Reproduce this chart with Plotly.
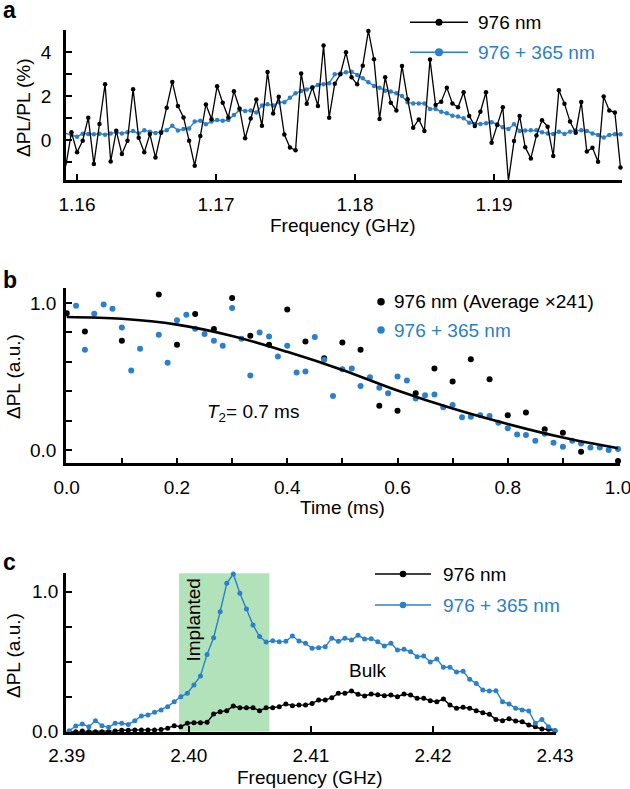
import plotly.graph_objects as go
import numpy as np

W, H = 630, 789
FONT = "Liberation Sans, Arial, Helvetica, sans-serif"
BLUE = "#2a80ca"
BLACK = "#000000"
GREEN = "#b2e2ba"

# ---------------- Panel a data ----------------
freq_a = np.linspace(1.1592, 1.1991, 100)
pl_976_a = [-1.17, 0.35, -0.56, -0.03, 1.02, -1.10, 0.73, 2.55, -0.98, 0.42,
            -0.64, -0.03, 2.32, 0.10, -0.56, 0.27, -0.80, 0.33, 1.47, 2.65,
            1.55, 1.03, -0.03, -1.17, 0.18, 1.62, 0.95, 2.45, 1.70, 1.03,
            2.23, 1.44, 0.08, 0.98, 1.85, 0.65, 3.10, 1.21, 1.97, 0.25,
            -0.34, -0.47, 3.04, 1.65, 2.40, 1.55, 4.31, 1.02, 2.57, 3.00,
            4.00, 2.86, 2.54, 3.39, 4.98, 3.68, 0.96, 2.86, 1.70, 1.35,
            3.38, 1.86, 0.56, 0.94, 0.41, 3.67, 1.60, 1.75, 2.39, 1.67,
            1.49, 2.18, 1.10, 0.64, 1.29, 2.18, -0.12, 0.68, 1.49, -1.86,
            -0.05, 1.10, -0.33, -0.84, 0.20, 0.90, 0.61, -0.73, 2.27, 1.66,
            0.84, 0.33, 1.74, -0.53, -0.35, -0.99, 1.98, 1.35, 1.26, -1.25]
pl_uv_a = [0.30, 0.23, 0.15, 0.29, 0.27, 0.26, 0.29, 0.24, 0.30, 0.35,
           0.30, 0.35, 0.41, 0.30, 0.44, 0.38, 0.32, 0.38, 0.44, 0.65,
           0.43, 0.50, 0.53, 0.84, 0.88, 0.72, 0.84, 0.91, 0.88, 0.91,
           1.14, 1.37, 1.32, 1.35, 1.26, 1.57, 1.63, 1.57, 1.72, 1.72,
           1.93, 2.13, 2.24, 2.31, 2.40, 2.51, 2.54, 2.59, 3.00, 3.04,
           3.09, 3.12, 2.97, 2.82, 2.63, 2.47, 2.39, 2.25, 2.21, 2.13,
           2.01, 1.72, 1.67, 1.67, 1.67, 1.42, 1.42, 1.29, 1.22, 1.11,
           1.07, 0.99, 0.79, 0.73, 0.73, 0.76, 0.81, 0.72, 0.58, 0.50,
           0.72, 0.41, 0.43, 0.44, 0.44, 0.35, 0.30, 0.27, 0.38, 0.27,
           0.38, 0.43, 0.44, 0.41, 0.30, 0.23, 0.12, 0.23, 0.26, 0.26]

# ---------------- Panel b data ----------------
t_976_b = [0.0, 0.033, 0.1, 0.167, 0.2, 0.233, 0.267, 0.3, 0.333, 0.367,
           0.4, 0.433, 0.467, 0.5, 0.533, 0.567, 0.6, 0.633, 0.667, 0.7,
           0.733, 0.767, 0.8, 0.833, 0.867, 0.9, 0.933, 1.0]
pl_976_b = [0.93, 0.807, 0.743, 1.057, 0.716, 0.925, 0.823, 1.034, 0.777, 0.716,
            0.955, 0.739, 0.625, 0.732, 0.682, 0.302, 0.268, 0.386, 0.555, 0.466,
            0.618, 0.482, 0.236, 0.255, 0.141, 0.118, -0.011, -0.075]
t_uv_b = [0.017, 0.033, 0.05, 0.067, 0.083, 0.1, 0.117, 0.133, 0.167, 0.183,
          0.2, 0.217, 0.233, 0.25, 0.267, 0.283, 0.3, 0.317, 0.333, 0.35,
          0.367, 0.383, 0.4, 0.417, 0.433, 0.45, 0.467, 0.483, 0.5, 0.517,
          0.533, 0.55, 0.567, 0.583, 0.6, 0.617, 0.633, 0.65, 0.667, 0.683,
          0.7, 0.717, 0.733, 0.75, 0.767, 0.783, 0.8, 0.817, 0.833, 0.85,
          0.867, 0.883, 0.9, 0.917, 0.933, 0.95, 0.967, 0.983, 1.0]
pl_uv_b = [0.982, 0.682, 0.927, 0.989, 0.961, 0.834, 0.541, 0.689, 0.784, 0.593,
           0.882, 0.920, 0.825, 0.789, 0.743, 0.709, 0.966, 0.757, 0.507, 0.800,
           0.773, 0.636, 0.709, 0.527, 0.534, 0.768, 0.614, 0.368, 0.550, 0.555,
           0.436, 0.495, 0.423, 0.386, 0.500, 0.473, 0.350, 0.373, 0.377, 0.291,
           0.307, 0.223, 0.227, 0.236, 0.232, 0.186, 0.148, 0.105, 0.102, 0.064,
           0.111, 0.050, 0.023, 0.064, 0.045, 0.018, 0.018, 0.000, 0.007]
t_fit_b = [0.0, 0.1, 0.2, 0.3, 0.4, 0.5, 0.6, 0.7, 0.8, 0.9, 1.0]
fit_b = [0.905, 0.893, 0.853, 0.776, 0.668, 0.545, 0.405, 0.282, 0.177, 0.085, 0.012]

# ---------------- Panel c data ----------------
freq_c = np.linspace(2.3902, 2.4300, 75)
pl_976_c = [0.0, 0.0, 0.005, 0.0, 0.0, 0.0, 0.0, 0.005, 0.01, 0.01,
            0.012, 0.012, 0.012, 0.012, 0.015, 0.025, 0.043, 0.036, 0.06, 0.064,
            0.064, 0.067, 0.126, 0.143, 0.15, 0.183, 0.171, 0.171, 0.171, 0.15,
            0.171, 0.171, 0.179, 0.198, 0.186, 0.19, 0.19, 0.202, 0.226, 0.226,
            0.243, 0.274, 0.274, 0.29, 0.267, 0.255, 0.269, 0.264, 0.257, 0.262,
            0.25, 0.269, 0.262, 0.238, 0.238, 0.221, 0.214, 0.233, 0.19, 0.167,
            0.174, 0.167, 0.15, 0.136, 0.124, 0.088, 0.079, 0.093, 0.076, 0.071,
            0.048, 0.036, 0.019, 0.017, 0.007]
pl_uv_c = [0.007, 0.04, 0.055, 0.036, 0.079, 0.043, 0.031, 0.06, 0.06, 0.052,
           0.079, 0.112, 0.119, 0.138, 0.155, 0.179, 0.214, 0.25, 0.274, 0.333,
           0.398, 0.552, 0.671, 0.857, 1.06, 1.126, 0.988, 0.876, 0.762, 0.679,
           0.64, 0.65, 0.643, 0.645, 0.683, 0.648, 0.631, 0.595, 0.60, 0.607,
           0.667, 0.645, 0.667, 0.655, 0.688, 0.662, 0.664, 0.643, 0.612, 0.631,
           0.583, 0.588, 0.571, 0.536, 0.54, 0.498, 0.519, 0.46, 0.46, 0.426,
           0.431, 0.374, 0.345, 0.298, 0.29, 0.293, 0.214, 0.198, 0.167, 0.155,
           0.148, 0.06, 0.088, 0.036, 0.007]
implanted_band = [2.3992, 2.4066]
implanted_top = 1.174

# ---------------- helpers ----------------
def px(x):
    return x / W

def py(y):
    return 1 - y / H

fig = go.Figure()

# Panel a traces
fig.add_trace(go.Scatter(x=freq_a, y=pl_uv_a, mode="lines+markers",
                         line=dict(color=BLUE, width=1.4), marker=dict(color=BLUE, size=4.5),
                         xaxis="x", yaxis="y", cliponaxis=False, showlegend=False))
fig.add_trace(go.Scatter(x=freq_a, y=pl_976_a, mode="lines+markers",
                         line=dict(color=BLACK, width=1.3), marker=dict(color=BLACK, size=4.5),
                         xaxis="x", yaxis="y", cliponaxis=False, showlegend=False))

# Panel b traces
fig.add_trace(go.Scatter(x=t_976_b, y=pl_976_b, mode="markers",
                         marker=dict(color=BLACK, size=6), xaxis="x2", yaxis="y2",
                         cliponaxis=False, showlegend=False))
fig.add_trace(go.Scatter(x=t_uv_b, y=pl_uv_b, mode="markers",
                         marker=dict(color=BLUE, size=6), xaxis="x2", yaxis="y2",
                         cliponaxis=False, showlegend=False))
fig.add_trace(go.Scatter(x=t_fit_b, y=fit_b, mode="lines",
                         line=dict(color=BLACK, width=2.6, shape="spline"),
                         xaxis="x2", yaxis="y2", cliponaxis=False, showlegend=False))

# Panel c traces
fig.add_trace(go.Scatter(x=freq_c, y=pl_976_c, mode="lines+markers",
                         line=dict(color=BLACK, width=1.4), marker=dict(color=BLACK, size=5),
                         xaxis="x3", yaxis="y3", cliponaxis=False, showlegend=False))
fig.add_trace(go.Scatter(x=freq_c, y=pl_uv_c, mode="lines+markers",
                         line=dict(color=BLUE, width=1.4), marker=dict(color=BLUE, size=5),
                         xaxis="x3", yaxis="y3", cliponaxis=False, showlegend=False))

axis_common = dict(showline=True, linewidth=2.5, linecolor=BLACK, ticks="inside",
                   ticklen=6, tickwidth=2, tickcolor=BLACK, showgrid=False,
                   zeroline=False, automargin=False, ticklabeloverflow="allow",
                   tickfont=dict(family=FONT, size=19, color=BLACK))

fig.update_layout(
    template="none",
    width=W, height=H, margin=dict(l=0, r=0, t=0, b=0, pad=0),
    paper_bgcolor="white", plot_bgcolor="rgba(0,0,0,0)",
    hovermode=False,
    xaxis=dict(domain=[px(66), px(622)], range=[1.15921, 1.19921], anchor="y",
               tickvals=[1.16, 1.17, 1.18, 1.19], ticktext=["1.16", "1.17", "1.18", "1.19"],
               ticklabelstandoff=5, **axis_common),
    yaxis=dict(domain=[py(180), py(30)], range=[-1.825, 5.02], anchor="x",
               tickvals=[-1, 0, 1, 2, 3, 4], ticktext=[" ", "0", " ", "2", " ", "4"],
               ticklabelstandoff=8, **axis_common),
    xaxis2=dict(domain=[px(66), px(620)], range=[-0.0013, 1.0036], anchor="y2",
                tickvals=[0, 0.1, 0.2, 0.3, 0.4, 0.5, 0.6, 0.7, 0.8, 0.9, 1.0],
                ticktext=["0.0", " ", "0.2", " ", "0.4", " ", "0.6", " ", "0.8", " ", "1.0"],
                ticklabelstandoff=5, **axis_common),
    yaxis2=dict(domain=[py(463.3), py(288.3)], range=[-0.09, 1.10], anchor="x2",
                tickvals=[0, 0.2, 0.4, 0.6, 0.8, 1.0],
                ticktext=["0.0", " ", " ", " ", " ", "1.0"],
                ticklabelstandoff=3, **axis_common),
    xaxis3=dict(domain=[px(66), px(556)], range=[2.38994, 2.43008], anchor="y3",
                tickvals=[2.39, 2.40, 2.41, 2.42, 2.43],
                ticktext=["2.39", "2.40", "2.41", "2.42", "2.43"],
                ticklabelstandoff=5, **axis_common),
    yaxis3=dict(domain=[py(731.7), py(573.3)], range=[0, 1.131], anchor="x3",
                tickvals=[0, 0.25, 0.5, 0.75, 1.0],
                ticktext=["0.0", " ", " ", " ", "1.0"],
                ticklabelstandoff=1, **axis_common),
)

shapes = []
# Implanted band in panel c (data coordinates)
shapes.append(dict(type="rect", xref="x3", yref="y3", x0=implanted_band[0], x1=implanted_band[1],
                   y0=0, y1=implanted_top, fillcolor=GREEN, line=dict(width=0), layer="below"))

def legend_dot(xc, y, color, d):
    r = d / 2
    shapes.append(dict(type="circle", xref="paper", yref="paper",
                       x0=px(xc - r), x1=px(xc + r), y0=py(y + r), y1=py(y - r),
                       fillcolor=color, line=dict(width=0)))

def legend_line(x0, x1, y, color, dot_d, width=1.5):
    shapes.append(dict(type="line", xref="paper", yref="paper", x0=px(x0), x1=px(x1),
                       y0=py(y), y1=py(y), line=dict(color=color, width=width)))
    legend_dot((x0 + x1) / 2, y, color, dot_d)

legend_line(410, 468, 22.3, BLACK, 7)
legend_line(410, 468, 52.3, BLUE, 8)
legend_dot(381, 301.7, BLACK, 7.5)
legend_dot(381, 330, BLUE, 7.5)
legend_line(375, 431, 574, BLACK, 6.5)
legend_line(375, 431, 605, BLUE, 6.5)

fig.update_layout(shapes=shapes)

ann = []
def text(x, y, s, color=BLACK, size=19, xanchor="left", angle=0, bold=False, yanchor="middle"):
    ann.append(dict(x=px(x), y=py(y), xref="paper", yref="paper",
                    text=("<b>%s</b>" % s) if bold else s,
                    showarrow=False, xanchor=xanchor, yanchor=yanchor, textangle=angle,
                    font=dict(family=FONT, size=size, color=color)))

# panel letters
text(1, 10, "a", size=23, bold=True)
text(1, 280, "b", size=23, bold=True)
text(1, 562, "c", size=23, bold=True)
# legend texts
text(476, 22.3, "976 nm")
text(476, 52.3, "976 + 365 nm", color=BLUE)
text(392, 301.7, "976 nm (Average ×241)")
text(392, 330, "976 + 365 nm", color=BLUE)
text(441, 574, "976 nm")
text(441, 605, "976 + 365 nm", color=BLUE)
# axis titles
text(343.5, 225, "Frequency (GHz)", xanchor="center")
text(23, 108, "ΔPL/PL (%)", xanchor="center", angle=-90)
text(342, 507, "Time (ms)", xanchor="center")
text(13, 377, "ΔPL (a.u.)", xanchor="center", angle=-90)
text(310, 777, "Frequency (GHz)", xanchor="center")
text(13, 656, "ΔPL (a.u.)", xanchor="center", angle=-90)
# in-plot labels
text(205, 413, "<i>T</i><sub>2</sub>= 0.7 ms")
text(192.5, 620, "Implanted", xanchor="center", angle=-90)
text(367.5, 670, "Bulk", xanchor="center")

fig.update_layout(annotations=ann)

fig.write_html("out.html", config={"displayModeBar": False},
               post_script="document.body.style.margin='0px';document.body.style.overflow='hidden';")
